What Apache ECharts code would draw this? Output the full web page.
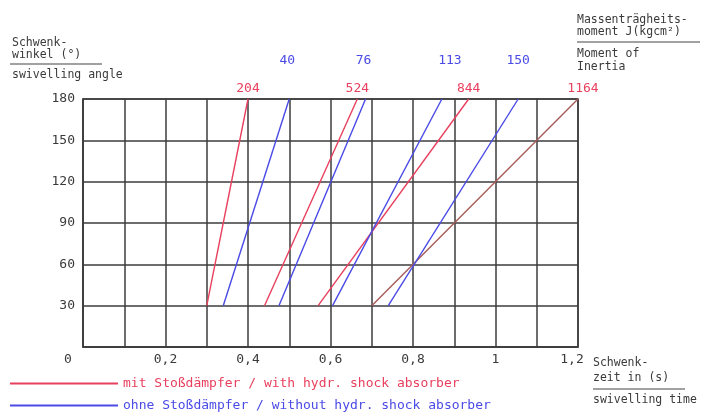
<!DOCTYPE html>
<html>
<head>
<meta charset="utf-8">
<script src="https://cdn.jsdelivr.net/npm/echarts@6/dist/echarts.min.js"></script>
<style>html,body{margin:0;padding:0;background:#fff;}#c{width:705px;height:416px;}</style>
</head>
<body>
<div id="c"></div>
<script>
// ---- data ----
const swivelAngle = [30, 180];            // y of start / end of each line (°)
const red204  = [0.30, 0.40];             // swivelling time (s) with shock absorber
const red524  = [0.44, 0.665];
const red844  = [0.57, 0.935];
const red1164 = [0.70, 1.20];
const blue40  = [0.34, 0.50];             // without shock absorber
const blue76  = [0.475, 0.685];
const blue113 = [0.605, 0.87];
const blue150 = [0.74, 1.055];
const redMoments  = ['204', '524', '844', '1164'];
const blueMoments = ['40', '76', '113', '150'];
const xTicks = [0, 0.2, 0.4, 0.6, 0.8, 1, 1.2];
const yTicks = [30, 60, 90, 120, 150, 180];

const NAME_RED  = 'mit Stoßdämpfer / with hydr. shock absorber';
const NAME_BLUE = 'ohne Stoßdämpfer / without hydr. shock absorber';
const RED = '#e8405e', BLUE = '#4a4ae6', TXT = '#3a3a3a';
const FONT = '"DejaVu Sans Mono", "Liberation Mono", monospace';

function mk(name, times, lbl, color, lblColor, offset) {
  const data = times.map((t, i) => {
    const item = { value: [t, swivelAngle[i]] };
    if (i === times.length - 1) {
      item.label = { show: true, formatter: lbl, position: 'top', distance: 4,
        offset: offset, color: lblColor, fontSize: 13, fontFamily: FONT };
    }
    return item;
  });
  return { type: 'line', name: name, data: data, symbol: 'circle', symbolSize: 0, showSymbol: true,
    lineStyle: { color: color, width: 1.4 }, itemStyle: { color: color },
    label: { show: false },
    clip: false, silent: true, z: 3 };
}

const redSets = [red204, red524, red844, red1164];
const blueSets = [blue40, blue76, blue113, blue150];
const blueOffsets = [[-2, -28], [-2, -28], [8, -28], [0, -28]];
const series = [];
redSets.forEach((s, i) => series.push(mk(NAME_RED, s, redMoments[i], i === 3 ? '#a85a5a' : RED, RED, [i === 3 ? 5 : 0, 0])));
blueSets.forEach((s, i) => series.push(mk(NAME_BLUE, s, blueMoments[i], BLUE, BLUE, blueOffsets[i])));

function t(x, y, s) {
  return { type: 'text', left: x, top: y - 6, style: { text: s, fill: TXT, font: '11.5px ' + FONT } };
}
function ln(x1, x2, y) {
  return { type: 'line', shape: { x1: x1, y1: y, x2: x2, y2: y }, style: { stroke: '#444', lineWidth: 1.2 } };
}
function lg(name, color, top) {
  return { orient: 'horizontal', left: 10, top: top, padding: 0, itemWidth: 108, itemHeight: 2,
    itemGap: 5, icon: 'rect', selectedMode: false,
    textStyle: { fontSize: 13, fontFamily: FONT, color: color },
    data: [{ name: name }] };
}

const chart = echarts.init(document.getElementById('c'), null, { renderer: 'canvas' });
chart.setOption({
  animation: false,
  backgroundColor: '#fff',
  grid: { left: 83, right: 127, top: 99, bottom: 69, show: true, borderColor: '#3c3c3c', borderWidth: 1.5 },
  xAxis: {
    type: 'value', min: 0, max: 1.2, interval: 0.1,
    axisLine: { show: true, lineStyle: { color: '#3c3c3c', width: 1.5 } },
    axisTick: { show: false },
    splitLine: { show: true, lineStyle: { color: '#3c3c3c', width: 1.5 } },
    axisLabel: {
      margin: 6, color: TXT, fontSize: 13, fontFamily: FONT,
      formatter: function (v) {
        const k = Math.round(v * 10);
        if (k % 2) return '';
        if (k === 0) return '{z|0}';
        if (k === 12) return '{e|1,2}';
        const val = xTicks.find(x => Math.round(x * 10) === k);
        return String(val).replace('.', ',');
      },
      rich: {
        z: { padding: [0, 30, 0, 0], fontSize: 13, fontFamily: FONT, color: TXT },
        e: { padding: [0, 12, 0, 0], fontSize: 13, fontFamily: FONT, color: TXT }
      }
    }
  },
  yAxis: {
    type: 'value', min: 0, max: 180, interval: 30,
    axisLine: { show: true, lineStyle: { color: '#3c3c3c', width: 1.5 } },
    axisTick: { show: false },
    splitLine: { show: true, lineStyle: { color: '#3c3c3c', width: 1.5 } },
    axisLabel: {
      margin: 8, color: TXT, fontSize: 13, fontFamily: FONT,
      formatter: v => (yTicks.indexOf(v) >= 0 ? String(v) : '')
    }
  },
  legend: [lg(NAME_RED, RED, 377), lg(NAME_BLUE, BLUE, 399)],
  graphic: [
    t(12, 43, 'Schwenk-'), t(12, 55, 'winkel (°)'), ln(10, 102, 64), t(12, 75, 'swivelling angle'),
    t(577, 20, 'Massenträgheits-'), t(577, 32, 'moment J(kgcm²)'), ln(577, 700, 42),
    t(577, 54, 'Moment of'), t(577, 67, 'Inertia'),
    t(593, 363, 'Schwenk-'), t(593, 378, 'zeit in (s)'), ln(593, 685, 389), t(593, 400, 'swivelling time')
  ],
  series: series
});
</script>
</body>
</html>
